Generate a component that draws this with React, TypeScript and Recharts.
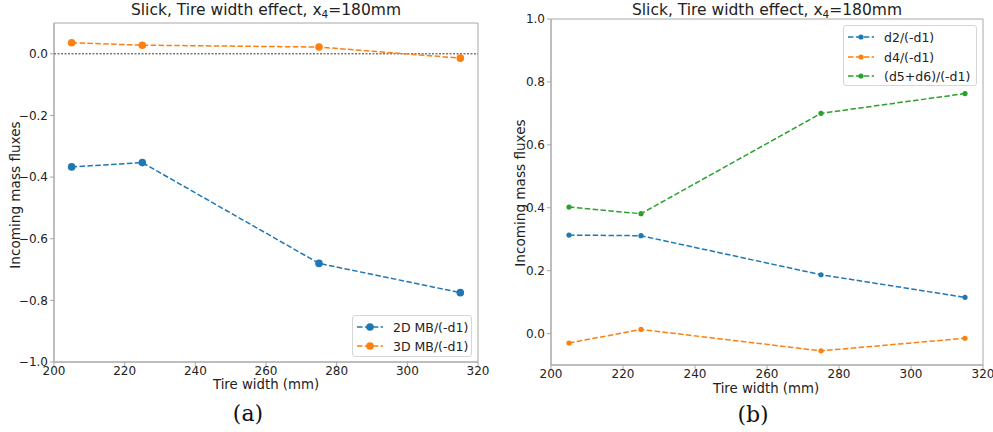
import {
  Line,
  LineChart,
  ReferenceArea,
  ReferenceLine,
  XAxis,
  YAxis,
} from 'recharts'

const tireWidths = [205, 225, 275, 315]
const mb2d = [-0.367, -0.353, -0.68, -0.775]
const mb3d = [0.036, 0.028, 0.022, -0.014]
const d2 = [0.313, 0.311, 0.187, 0.115]
const d4 = [-0.03, 0.013, -0.055, -0.015]
const d56 = [0.402, 0.381, 0.7, 0.763]

const xTicks = [200, 220, 240, 260, 280, 300, 320]
const leftTicks = [-1.0, -0.8, -0.6, -0.4, -0.2, 0.0]
const rightTicks = [0.0, 0.2, 0.4, 0.6, 0.8, 1.0]

const blue = '#1f77b4'
const orange = '#ff7f0e'
const green = '#2ca02c'
const spine = '#a8a8a8'
const font = '"DejaVu Sans", sans-serif'

const leftData = tireWidths.map((w, i) => ({ w, a: mb2d[i], b: mb3d[i] }))
const rightData = tireWidths.map((w, i) => ({ w, d2: d2[i], d4: d4[i], d56: d56[i] }))

const fmt = (v: number) => v.toFixed(1).replace('-', '\u2212')
const tickStyle = { fontSize: 12, fill: '#222', fontFamily: font }

interface LegendItem {
  label: string
  color: string
  r: number
}

function LegendBox({
  items,
  left,
  top,
  width,
  height,
  rowY,
}: {
  items: LegendItem[]
  left: number
  top: number
  width: number
  height: number
  rowY: number[]
}) {
  return (
    <div
      style={{
        position: 'absolute',
        left,
        top,
        width,
        height,
        boxSizing: 'border-box',
        background: 'rgba(255,255,255,0.85)',
        border: '1px solid #d6d6d6',
        borderRadius: 3,
        fontFamily: font,
        fontSize: 12.5,
        color: '#222',
      }}
    >
      {items.map((it, i) => (
        <div
          key={it.label}
          style={{
            position: 'absolute',
            left: 4,
            top: rowY[i] - 8,
            height: 16,
            display: 'flex',
            alignItems: 'center',
            whiteSpace: 'nowrap',
          }}
        >
          <svg width={26} height={10} style={{ marginRight: 10 }}>
            <line x1={0} y1={5} x2={26} y2={5} stroke={it.color} strokeWidth={1.5} strokeDasharray="5.5 2.4" />
            <circle cx={13} cy={5} r={it.r} fill={it.color} />
          </svg>
          <span>{it.label}</span>
        </div>
      ))}
    </div>
  )
}

function Title({ cx }: { cx: number }) {
  return (
    <div
      style={{
        position: 'absolute',
        left: cx - 200,
        top: 0,
        width: 400,
        textAlign: 'center',
        fontFamily: font,
        fontSize: 15.5,
        color: '#222',
        lineHeight: '20px',
      }}
    >
      Slick, Tire width effect, x<sub style={{ fontSize: 10.5, verticalAlign: -3, lineHeight: 0 }}>4</sub>=180mm
    </div>
  )
}

function YLabel({ cx, cy }: { cx: number; cy: number }) {
  return (
    <div
      style={{
        position: 'absolute',
        left: cx - 100,
        top: cy - 10,
        width: 200,
        height: 20,
        lineHeight: '20px',
        textAlign: 'center',
        transform: 'rotate(-90deg)',
        fontFamily: font,
        fontSize: 13.6,
        color: '#222',
      }}
    >
      Incoming mass fluxes
    </div>
  )
}

function XLabel({ cx, cy }: { cx: number; cy: number }) {
  return (
    <div
      style={{
        position: 'absolute',
        left: cx - 100,
        top: cy - 8,
        width: 200,
        height: 16,
        textAlign: 'center',
        fontFamily: font,
        fontSize: 13.3,
        color: '#222',
        lineHeight: '16px',
      }}
    >
      Tire width (mm)
    </div>
  )
}

function SubCaption({ cx, cy, text }: { cx: number; cy: number; text: string }) {
  return (
    <div
      style={{
        position: 'absolute',
        left: cx - 50,
        top: cy - 15,
        width: 100,
        height: 30,
        textAlign: 'center',
        fontFamily: '"DejaVu Serif", serif',
        fontSize: 22,
        color: '#111',
        lineHeight: '30px',
      }}
    >
      {text}
    </div>
  )
}

export default function App() {
  return (
    <div
      style={{
        position: 'fixed',
        left: 0,
        top: 0,
        width: 993,
        height: 432,
        background: '#fff',
        overflow: 'hidden',
      }}
    >
      <div style={{ position: 'absolute', left: 0, top: 0 }}>
        <LineChart width={493} height={432} data={leftData} margin={{ top: 23, right: 15, left: 10, bottom: 50 }}>
          <XAxis
            dataKey="w"
            type="number"
            domain={[200, 320]}
            ticks={xTicks}
            tick={tickStyle}
            tickSize={4}
            tickMargin={0}
            stroke={spine}
            height={20}
            allowDataOverflow
          />
          <YAxis
            type="number"
            domain={[-1, 0.1]}
            ticks={leftTicks}
            tickFormatter={fmt}
            tick={tickStyle}
            tickSize={4}
            stroke={spine}
            width={44}
            allowDataOverflow
          />
          <ReferenceArea x1={200} x2={320} y1={-1} y2={0.1} fill="none" stroke={spine} strokeWidth={1} />
          <ReferenceLine y={0} stroke="#000" strokeWidth={0.8} strokeDasharray="2 1.5" />
          <Line
            dataKey="a"
            stroke={blue}
            strokeWidth={1.5}
            strokeDasharray="5.5 2.4"
            dot={{ r: 3.8, fill: blue, stroke: blue, strokeWidth: 0 }}
            isAnimationActive={false}
          />
          <Line
            dataKey="b"
            stroke={orange}
            strokeWidth={1.5}
            strokeDasharray="5.5 2.4"
            dot={{ r: 3.8, fill: orange, stroke: orange, strokeWidth: 0 }}
            isAnimationActive={false}
          />
        </LineChart>
      </div>

      <div style={{ position: 'absolute', left: 497, top: 0 }}>
        <LineChart width={496} height={432} data={rightData} margin={{ top: 19, right: 10, left: 10, bottom: 47 }}>
          <XAxis
            dataKey="w"
            type="number"
            domain={[200, 320]}
            ticks={xTicks}
            tick={tickStyle}
            tickSize={4}
            tickMargin={0}
            stroke={spine}
            height={20}
            allowDataOverflow
          />
          <YAxis
            type="number"
            domain={[-0.1, 1.0]}
            ticks={rightTicks}
            tickFormatter={fmt}
            tick={tickStyle}
            tickSize={4}
            stroke={spine}
            width={44}
            allowDataOverflow
          />
          <ReferenceArea x1={200} x2={320} y1={-0.1} y2={1.0} fill="none" stroke={spine} strokeWidth={1} />
          <Line
            dataKey="d2"
            stroke={blue}
            strokeWidth={1.5}
            strokeDasharray="5.5 2.4"
            dot={{ r: 2.6, fill: blue, stroke: blue, strokeWidth: 0 }}
            isAnimationActive={false}
          />
          <Line
            dataKey="d4"
            stroke={orange}
            strokeWidth={1.5}
            strokeDasharray="5.5 2.4"
            dot={{ r: 2.6, fill: orange, stroke: orange, strokeWidth: 0 }}
            isAnimationActive={false}
          />
          <Line
            dataKey="d56"
            stroke={green}
            strokeWidth={1.5}
            strokeDasharray="5.5 2.4"
            dot={{ r: 2.6, fill: green, stroke: green, strokeWidth: 0 }}
            isAnimationActive={false}
          />
        </LineChart>
      </div>

      <Title cx={266} />
      <Title cx={767} />
      <YLabel cx={15} cy={195} />
      <YLabel cx={520} cy={193} />
      <XLabel cx={266} cy={385} />
      <XLabel cx={766} cy={389} />
      <SubCaption cx={248} cy={414} text="(a)" />
      <SubCaption cx={753} cy={415} text="(b)" />

      <LegendBox
        left={352}
        top={315}
        width={120}
        height={42}
        rowY={[11, 30]}
        items={[
          { label: '2D MB/(-d1)', color: blue, r: 3.8 },
          { label: '3D MB/(-d1)', color: orange, r: 3.8 },
        ]}
      />
      <LegendBox
        left={843}
        top={25}
        width={134}
        height={61}
        rowY={[11, 31, 50]}
        items={[
          { label: 'd2/(-d1)', color: blue, r: 2.6 },
          { label: 'd4/(-d1)', color: orange, r: 2.6 },
          { label: '(d5+d6)/(-d1)', color: green, r: 2.6 },
        ]}
      />
    </div>
  )
}
